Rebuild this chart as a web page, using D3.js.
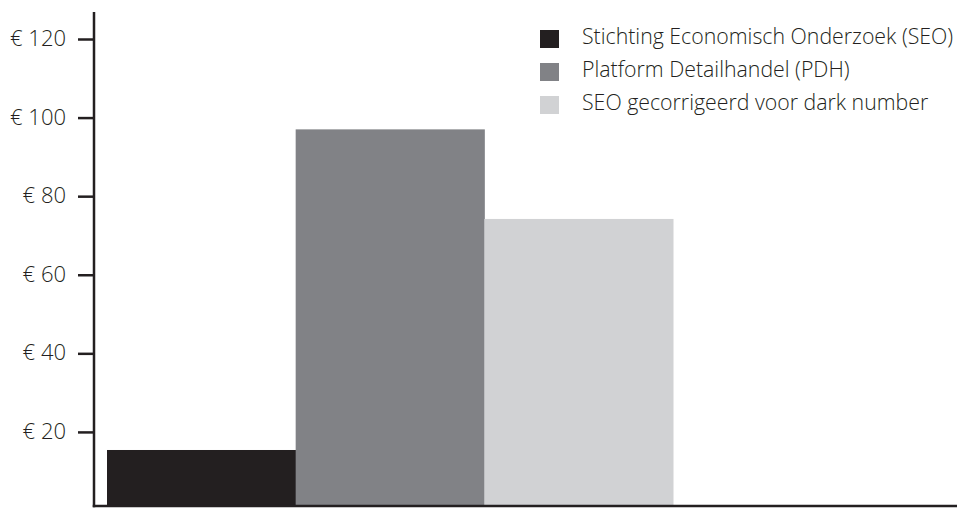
<!DOCTYPE html>
<html>
<head>
<meta charset="utf-8">
<script src="https://cdn.jsdelivr.net/npm/d3@7"></script>
<style>
  html, body { margin: 0; padding: 0; background: #fff; }
  svg text { font-family: "Open Sans", "DejaVu Sans", sans-serif; font-weight: 350; fill: #231f20; }
</style>
</head>
<body>
<svg id="chart" width="958" height="521"></svg>
<script>
// Data: costs per source
const series = [
  "Stichting Economisch Onderzoek (SEO)",
  "Platform Detailhandel (PDH)",
  "SEO gecorrigeerd voor dark number"
];
const values = [15.4, 97, 74.2];
const colors = ["#231f20", "#818286", "#d1d2d4"];
const tickValues = [20, 40, 60, 80, 100, 120];
const tickLabel = v => "€ " + v;

const svg = d3.select("#chart");
const axisX = 94;       // vertical axis position
const baseY = 506;      // horizontal axis position
const ink = "#231f20";

const y = d3.scaleLinear().domain([0, 120]).range([510.5, 39]);
const x = d3.scaleBand().domain(series).range([107, 673]).paddingInner(0).paddingOuter(0);

// bars
svg.append("g").selectAll("rect")
  .data(series)
  .join("rect")
  .attr("x", d => x(d))
  .attr("width", x.bandwidth() + 0.5)
  .attr("y", (d, i) => y(values[i]))
  .attr("height", (d, i) => baseY - y(values[i]))
  .attr("fill", (d, i) => colors[i]);

// y axis
const yAxis = d3.axisLeft(y)
  .tickValues(tickValues)
  .tickFormat(tickLabel)
  .tickSize(16)
  .tickPadding(12);
const gy = svg.append("g").attr("transform", `translate(${axisX},0)`).call(yAxis);
gy.select(".domain").remove();
gy.selectAll(".tick line").attr("stroke", ink).attr("stroke-width", 2.5);
gy.selectAll(".tick text")
  .attr("font-size", 22)
  .attr("dy", "0.3em")
  .style("font-family", '"Open Sans", sans-serif')
  .style("font-weight", 350)
  .attr("fill", ink);

// axis lines
svg.append("line")
  .attr("x1", axisX).attr("x2", axisX)
  .attr("y1", 12).attr("y2", baseY + 1.25)
  .attr("stroke", ink).attr("stroke-width", 2.5);
svg.append("line")
  .attr("x1", axisX - 1.25).attr("x2", 957)
  .attr("y1", baseY).attr("y2", baseY)
  .attr("stroke", ink).attr("stroke-width", 2.5);

// legend
const legend = svg.append("g").attr("transform", "translate(540,30)");
const rows = legend.selectAll("g")
  .data(series)
  .join("g")
  .attr("transform", (d, i) => `translate(0,${i * 33})`);
rows.append("rect")
  .attr("width", 19).attr("height", 18)
  .attr("fill", (d, i) => colors[i]);
rows.append("text")
  .attr("x", 42).attr("y", 14)
  .attr("font-size", 21.3)
  .text(d => d);
</script>
</body>
</html>
